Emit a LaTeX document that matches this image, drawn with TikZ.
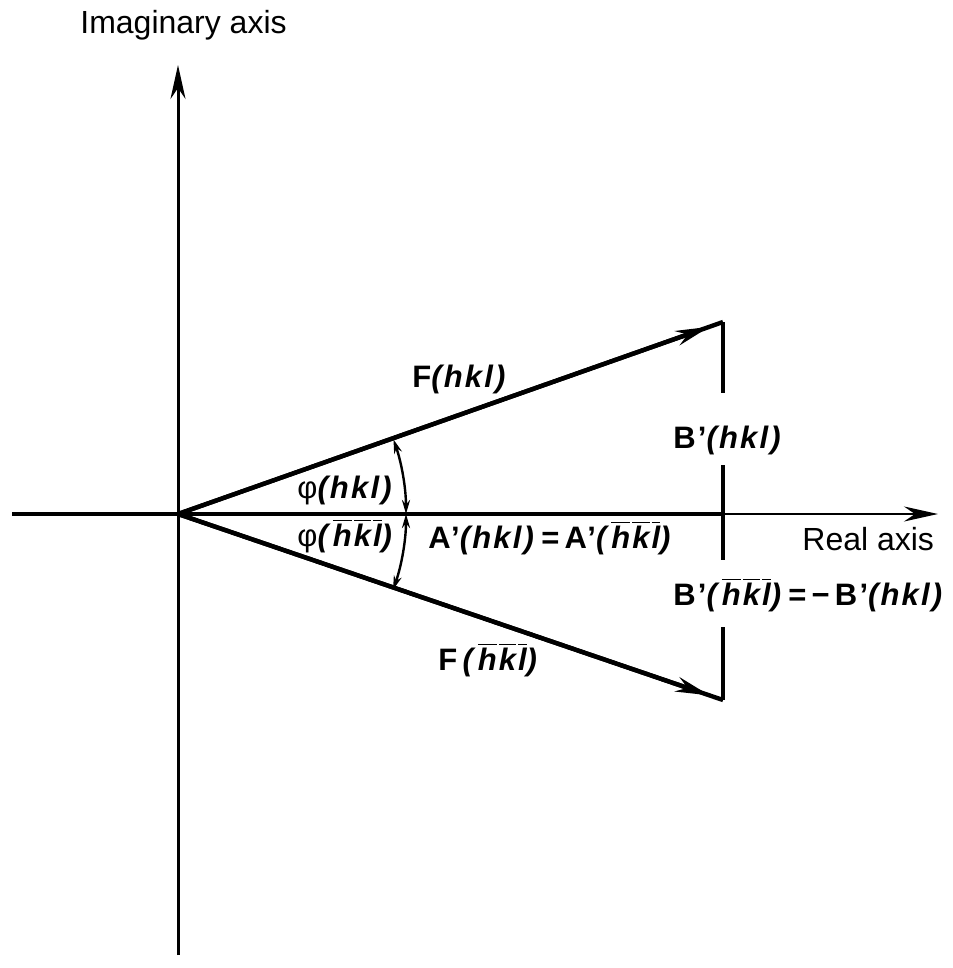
\documentclass[tikz,border=0pt]{standalone}
\usepackage{fontspec}
\setmainfont{Liberation Sans}
\usetikzlibrary{arrows.meta,calc}
\newcommand\ob[1]{\ensuremath{\overline{\mbox{\itshape #1}}}}
\newcommand\bh{\ob{h}\kern1pt}
\newcommand\bk{\ob{k}\kern1pt}
\newcommand\bl{\ob{l}}
\newcommand\hklt{\textit{(hkl)}}
\newcommand\hklbar{\textit{(}\bh\bk\bl\textit{)}}
\tikzset{
  lab/.style={inner sep=0pt, anchor=base west, font=\fontsize{15.5}{17}\selectfont\bfseries\addfontfeature{LetterSpace=7}},
  axlab/.style={inner sep=0pt, anchor=base west, font=\fontsize{16}{18}\selectfont},
  axis/.style={line width=1.5pt},
  vec/.style={line width=2.2pt},
  bigtip/.style={-{Stealth[length=17pt,width=7.5pt]}},
  arc/.style={line width=1.2pt,{Stealth[length=7pt,width=4pt]}-{Stealth[length=7pt,width=4pt]}}
}
\begin{document}
\begin{tikzpicture}[x=0.5pt,y=-0.5pt]
\useasboundingbox (0,0) rectangle (952,968);
\coordinate (O) at (178,514);
\coordinate (Ytop) at (178,65);
\coordinate (Ybot) at (178,955);
\coordinate (Xl) at (12,514);
\coordinate (Xr) at (938,514);
\coordinate (Xm) at (723,514);
\coordinate (Bt) at (723,322);
\coordinate (Bb) at (723,700);
\coordinate (S1) at (723,393);
\coordinate (S2) at (723,465);
\coordinate (S3) at (723,560);
\coordinate (S4) at (723,627);
% axes
\draw[axis] (Ybot) -- (O);
\draw[axis,bigtip] (O) -- (Ytop);
\draw[line width=2pt] (Xl) -- (Xm);
\draw[line width=1.2pt,bigtip] (Xm) -- (Xr);
% vectors
\draw[vec] (O) -- (Bt);
\draw[vec,bigtip] (O) -- ($(O)!0.975!(Bt)$);
\draw[vec] (O) -- (Bb);
\draw[vec,bigtip] (O) -- ($(O)!0.975!(Bb)$);
% B' segments
\draw[vec] (Bt) -- (S1);
\draw[vec] (S2) -- (S3);
\draw[vec] (S4) -- (Bb);
% angle arcs
\draw[arc] ($(O)+(19.4:228)$) arc[start angle=19.4, end angle=0, radius=228];
\draw[arc] ($(O)+(0:228)$) arc[start angle=0, end angle=-19.1, radius=228];
% labels
\node[axlab] (imag) at (80,34) {Imaginary axis};
\node[axlab] (real) at (802,550) {Real axis};
\node[lab] (F1) at (412,387) {F\hklt};
\node[lab] (B1) at (673,448) {B'\hklt};
\node[lab] (p1) at (297,498) {{\mdseries φ}\hklt};
\node[lab] (p2) at (297,546) {{\mdseries φ}\hklbar};
\node[lab] (A1) at (428,548) {A'\hklt\,=\,A'\hklbar};
\node[lab] (B2) at (673,605) {B'\hklbar\,=\,−\,B'\hklt};
\node[lab] (F2) at (438,670) {F\,\hklbar};
\end{tikzpicture}
\end{document}
